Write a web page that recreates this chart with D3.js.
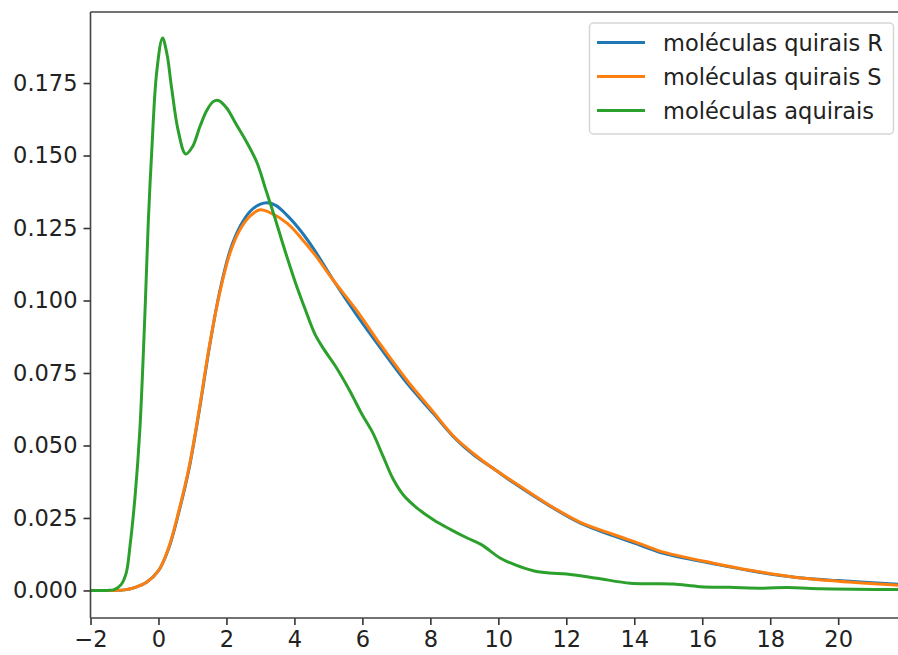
<!DOCTYPE html>
<html>
<head>
<meta charset="utf-8">
<script src="https://cdn.jsdelivr.net/npm/d3@7"></script>
<style>
  body { margin: 0; background: white; }
</style>
</head>
<body>
<div id="chart"></div>
<script>
// x positions and density values
var xR = [-2, -1.5, -1.0, -0.7, -0.35, 0.0, 0.3, 0.6, 0.9, 1.2, 1.5, 1.8, 2.1, 2.4, 2.7, 3.0, 3.2, 3.45, 3.8, 4.2, 4.6, 5.15, 5.83, 6.52, 7.31, 8.09, 8.7, 9.3, 9.8, 10.44, 11.42, 12.4, 13.39, 14.2, 14.86, 16.33, 17.5, 18.78, 20.0, 21.8];
var yR = [0, 0, 0.0002, 0.001, 0.0028, 0.0068, 0.0145, 0.027, 0.042, 0.062, 0.084, 0.103, 0.117, 0.1255, 0.1308, 0.1332, 0.1337, 0.1328, 0.1292, 0.1238, 0.1172, 0.1069, 0.0950, 0.0838, 0.0715, 0.0610, 0.0528, 0.0465, 0.0425, 0.0372, 0.0298, 0.0233, 0.0188, 0.0155, 0.0128, 0.0092, 0.0066, 0.0045, 0.0034, 0.0021];

var xS = [-2, -1.5, -1.0, -0.7, -0.35, 0.0, 0.3, 0.6, 0.9, 1.2, 1.5, 1.8, 2.1, 2.4, 2.7, 2.99, 3.3, 3.8, 4.2, 4.6, 5.15, 5.83, 6.52, 7.31, 8.09, 8.7, 9.3, 9.8, 10.44, 11.42, 12.4, 13.39, 14.2, 14.86, 16.33, 17.5, 18.78, 20.0, 21.8];
var yS = [0, 0, 0.0002, 0.001, 0.0028, 0.0068, 0.0148, 0.0275, 0.0425, 0.0625, 0.0845, 0.1025, 0.1162, 0.1245, 0.1292, 0.1313, 0.1302, 0.1265, 0.1215, 0.1158, 0.1069, 0.0966, 0.0850, 0.0725, 0.0615, 0.053, 0.0469, 0.0425, 0.0375, 0.0300, 0.0236, 0.0193, 0.016, 0.0132, 0.0094, 0.0068, 0.0045, 0.0032, 0.0018];

var xA = [-2, -1.5, -1.3, -1.1, -0.95, -0.84, -0.69, -0.55, -0.4, -0.3, -0.2, -0.05, 0.12, 0.25, 0.39, 0.58, 0.8, 1.0, 1.22, 1.42, 1.6, 1.76, 2.0, 2.3, 2.6, 2.9, 3.15, 3.4, 3.7, 4.02, 4.3, 4.6, 4.85, 5.2, 5.6, 6.0, 6.3, 6.6, 6.9, 7.2, 7.6, 8.1, 8.6, 9.1, 9.5, 10.05, 10.5, 11.03, 11.5, 12.01, 12.9, 13.88, 14.5, 15.15, 15.94, 16.8, 17.8, 18.5, 19.5, 20.5, 21.8];
var yA = [0, 0, 0.0003, 0.002, 0.006, 0.0151, 0.0323, 0.055, 0.095, 0.127, 0.151, 0.179, 0.1905, 0.185, 0.173, 0.1586, 0.1505, 0.153, 0.160, 0.1655, 0.1685, 0.169, 0.1665, 0.1605, 0.1545, 0.1475, 0.1385, 0.1295, 0.118, 0.1065, 0.0975, 0.0885, 0.0835, 0.0775, 0.0695, 0.0605, 0.0545, 0.0465, 0.0385, 0.033, 0.0285, 0.0243, 0.021, 0.018, 0.0158, 0.0112, 0.0088, 0.0068, 0.006, 0.0057, 0.0042, 0.0025, 0.0023, 0.0022, 0.0013, 0.0011, 0.0008, 0.001, 0.0006, 0.0004, 0.0003];

var seriesNames = ["moléculas quirais R", "moléculas quirais S", "moléculas aquirais"];
var seriesColors = ["#1f77b4", "#ff7f0e", "#2ca02c"];
var xTicks = [-2, 0, 2, 4, 6, 8, 10, 12, 14, 16, 18, 20];
var yTicks = [0, 0.025, 0.05, 0.075, 0.1, 0.125, 0.15, 0.175];

var W = 898, H = 655;
var plotLeft = 90.5, plotTop = 12, plotBottom = 618;
var fontSize = 22.5;

var svg = d3.select("#chart")
  .append("svg")
  .attr("width", W)
  .attr("height", H);

var x = d3.scaleLinear().domain([-2, 21.76]).range([plotLeft, W]);
var y = d3.scaleLinear().domain([-0.0095, 0.1995]).range([plotBottom, plotTop]);

svg.append("clipPath")
  .attr("id", "plot")
  .append("rect")
  .attr("x", plotLeft)
  .attr("y", plotTop)
  .attr("width", W - plotLeft)
  .attr("height", plotBottom - plotTop);

var series = [
  d3.zip(xR, yR),
  d3.zip(xS, yS),
  d3.zip(xA, yA)
];

var line = d3.line()
  .x(function(d) { return x(d[0]); })
  .y(function(d) { return y(d[1]); })
  .curve(d3.curveCatmullRom.alpha(0.5));

svg.append("g")
  .attr("clip-path", "url(#plot)")
  .selectAll("path")
  .data(series)
  .enter()
  .append("path")
  .attr("d", line)
  .style("fill", "none")
  .style("stroke", function(d, i) { return seriesColors[i]; })
  .style("stroke-width", 3)
  .style("stroke-linejoin", "round")
  .style("stroke-linecap", "round");

// axes
var xAxis = svg.append("g")
  .attr("transform", "translate(0," + plotBottom + ")")
  .call(d3.axisBottom(x)
    .tickValues(xTicks)
    .tickSize(7)
    .tickPadding(6)
    .tickFormat(function(d) { return d < 0 ? "\u2212" + Math.abs(d) : d; }));

var yAxis = svg.append("g")
  .attr("transform", "translate(" + plotLeft + ",0)")
  .call(d3.axisLeft(y)
    .tickValues(yTicks)
    .tickSize(7)
    .tickPadding(6)
    .tickFormat(d3.format(".3f")));

[xAxis, yAxis].forEach(function(ax) {
  ax.select(".domain").remove();
  ax.selectAll(".tick line").style("stroke", "#333").style("stroke-width", 1.6);
  ax.selectAll(".tick text")
    .style("font-family", "DejaVu Sans")
    .style("font-size", fontSize + "px")
    .style("fill", "#222");
});

// spines
svg.append("line")
  .attr("x1", plotLeft).attr("x2", plotLeft)
  .attr("y1", plotTop).attr("y2", plotBottom)
  .style("stroke", "#444").style("stroke-width", 1.6);
svg.append("line")
  .attr("x1", plotLeft).attr("x2", W)
  .attr("y1", plotTop).attr("y2", plotTop)
  .style("stroke", "#444").style("stroke-width", 1.6);
svg.append("line")
  .attr("x1", plotLeft).attr("x2", W)
  .attr("y1", plotBottom).attr("y2", plotBottom)
  .style("stroke", "#444").style("stroke-width", 1.6);

// legend
var legend = svg.append("g");

legend.append("rect")
  .attr("x", 589.5)
  .attr("y", 23)
  .attr("width", 304)
  .attr("height", 111)
  .attr("rx", 4)
  .style("fill", "white")
  .style("fill-opacity", 0.8)
  .style("stroke", "#d6d6d6")
  .style("stroke-width", 1.5);

seriesNames.forEach(function(name, i) {
  var ly = 42.5 + i * 34;
  legend.append("line")
    .attr("x1", 597).attr("x2", 645)
    .attr("y1", ly).attr("y2", ly)
    .style("stroke", seriesColors[i])
    .style("stroke-width", 3);
  legend.append("text")
    .attr("x", 663)
    .attr("y", ly)
    .attr("dy", "0.36em")
    .style("font-family", "DejaVu Sans")
    .style("font-size", fontSize + "px")
    .style("fill", "#222")
    .text(name);
});
</script>
</body>
</html>
